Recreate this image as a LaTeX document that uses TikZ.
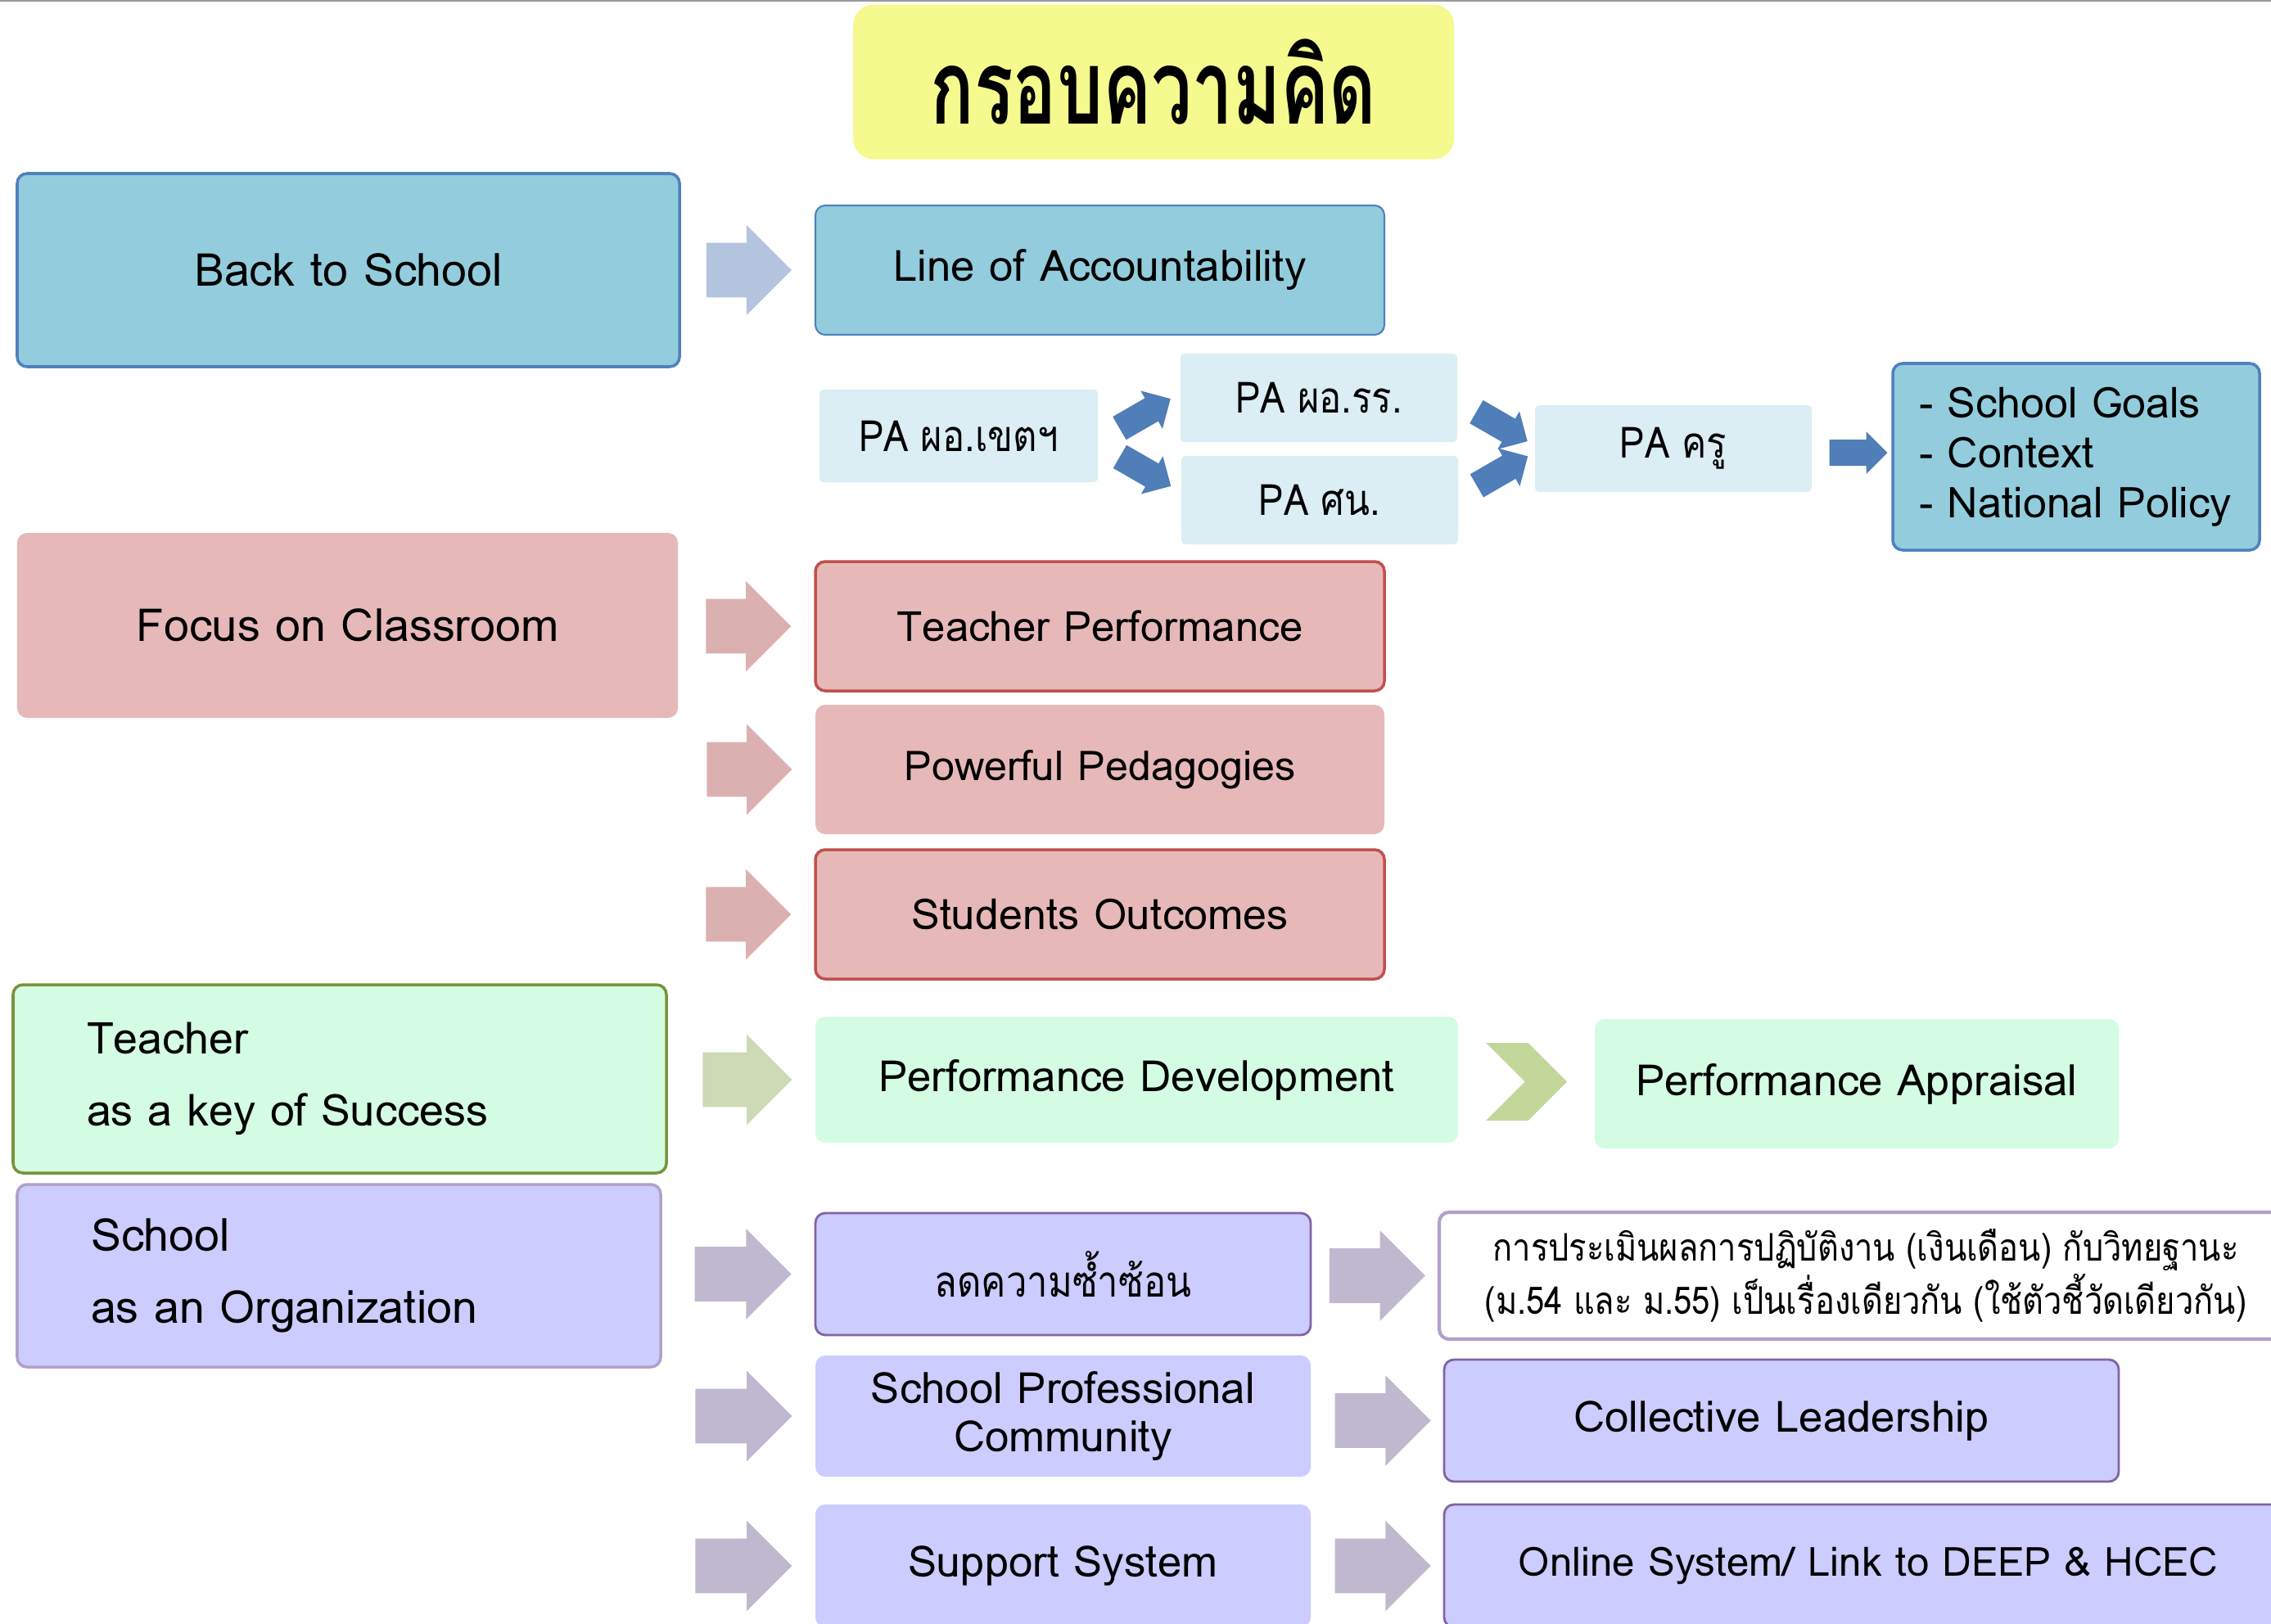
\documentclass[tikz,border=0pt]{standalone}
\usepackage{fontspec}
\setmainfont[Script=Thai]{Loma}
\newfontfamily\thaifont[Script=Thai, FakeStretch=0.86]{Loma}
\newfontfamily\titlefont[Script=Thai, FakeStretch=0.70]{Loma}
\usetikzlibrary{calc}
\usetikzlibrary{positioning}
\usetikzlibrary{shapes.arrows}
\usetikzlibrary{shapes.symbols}

\definecolor{ttfill}{HTML}{F4FA8E}
\definecolor{bsfill}{HTML}{93CDDD}
\definecolor{bsline}{HTML}{4F81BD}
\definecolor{pafill}{HTML}{DAEEF3}
\definecolor{arlight}{HTML}{B3C4DE}
\definecolor{ardark}{HTML}{4F7EB8}
\definecolor{pkfill}{HTML}{E6B9B8}
\definecolor{pkline}{HTML}{C0504D}
\definecolor{arpink}{HTML}{DBB0B1}
\definecolor{gnfill}{HTML}{D3FCE3}
\definecolor{gnline}{HTML}{77933C}
\definecolor{argreen}{HTML}{CDDAB5}
\definecolor{chev}{HTML}{C4D79B}
\definecolor{pufill}{HTML}{CCCCFF}
\definecolor{pulite}{HTML}{B2A1C7}
\definecolor{puline}{HTML}{8064A2}
\definecolor{arpurple}{HTML}{BFB8CF}

\begin{document}
\begin{tikzpicture}[
  box/.style={rounded corners=0.12cm, inner sep=0pt, align=center, font=\fontsize{15}{18}\selectfont},
  bluebox/.style={box, fill=bsfill, draw=bsline, line width=1pt},
  pabox/.style={box, fill=pafill, rounded corners=0.05cm, minimum width=3.38cm, minimum height=1.08cm, font=\fontsize{15}{18}\thaifont},
  pinkbox/.style={box, fill=pkfill},
  greenbox/.style={box, fill=gnfill},
  purplebox/.style={box, fill=pufill},
  bigarrow/.style={single arrow, inner xsep=0pt, inner ysep=0.327cm, minimum height=1.04cm, single arrow head extend=0.218cm},
  smallarrow/.style={single arrow, inner xsep=0pt, inner ysep=0.156cm, fill=ardark, minimum height=0.72cm, single arrow head extend=0.104cm},
]
\clip (0,0) rectangle (27.74,-19.83);
\draw[gray!80, line width=1pt] (0,0) -- (27.74,0);

\node[box, fill=ttfill, rounded corners=0.25cm, minimum width=7.34cm, minimum height=1.89cm, font=\fontsize{36}{40}\titlefont\bfseries] (title) at (14.09,-1.00) {กรอบความคิด};

\node[bluebox, minimum width=8.09cm, minimum height=2.36cm, font=\fontsize{15.8}{18}\selectfont] (bts) at (4.255,-3.30) {Back to School};
\node[bluebox, line width=0.6pt, minimum width=6.95cm, minimum height=1.58cm] (loa) at (13.435,-3.30) {Line of Accountability};
\node[bigarrow, fill=arlight, left=0.27cm of loa] (abts) {};

\node[pabox, minimum width=3.40cm, minimum height=1.13cm] (pazone) at (11.71,-5.325) {PA ผอ.เขตฯ};
\node[pabox] (paschool) at (16.11,-4.86) {PA ผอ.รร.};
\node[pabox] (pasup) at (16.12,-6.11) {PA ศน.};
\node[pabox, minimum height=1.06cm] (pateach) at (20.44,-5.48) {PA ครู};
\node[bluebox, minimum width=4.48cm, minimum height=2.28cm, text width=3.84cm, inner xsep=0.32cm, align=left, font=\fontsize{14.8}{17.3}\selectfont] (goals) at (25.36,-5.58) {- School Goals\\- Context\\- National Policy};
\node[smallarrow, rotate=30] (azs) at ($(pazone.east)!0.5!(paschool.west)$) {};
\node[smallarrow, rotate=-30] (azu) at ($(pazone.east)!0.5!(pasup.west)$) {};
\node[smallarrow, rotate=-30] (ast) at ($(paschool.east)!0.5!(pateach.west)$) {};
\node[smallarrow, rotate=30] (aut) at ($(pasup.east)!0.5!(pateach.west)$) {};
\node[smallarrow, minimum height=0.71cm, inner ysep=0.153cm, single arrow head extend=0.1cm] (atg) at ($(pateach.east)!0.5!(goals.west)$) {};

\node[pinkbox, minimum width=8.07cm, minimum height=2.26cm, font=\fontsize{15.8}{18}\selectfont] (focus) at (4.245,-7.64) {Focus on Classroom};
\node[pinkbox, draw=pkline, line width=1pt, minimum width=6.95cm, minimum height=1.58cm, font=\fontsize{14.5}{18}\selectfont] (tperf) at (13.435,-7.65) {Teacher Performance};
\node[pinkbox, minimum width=6.95cm, minimum height=1.58cm, font=\fontsize{14.3}{18}\selectfont] (pped) at (13.435,-9.40) {Powerful Pedagogies};
\node[pinkbox, draw=pkline, line width=1pt, minimum width=6.95cm, minimum height=1.58cm, font=\fontsize{14.8}{18}\selectfont] (sout) at (13.435,-11.17) {Students Outcomes};
\node[bigarrow, fill=arpink, left=0.27cm of tperf] (atp) {};
\node[bigarrow, fill=arpink, left=0.27cm of pped] (app) {};
\node[bigarrow, fill=arpink, left=0.27cm of sout] (aso) {};

\node[greenbox, draw=gnline, line width=1pt, minimum width=7.98cm, minimum height=2.30cm, text width=6.18cm, inner xsep=0.9cm, align=left, font=\fontsize{15.3}{25}\selectfont] (tkey) at (4.15,-13.18) {Teacher\\as a key of Success};
\node[greenbox, minimum width=7.85cm, minimum height=1.54cm] (pdev) at (13.885,-13.19) {Performance Development};
\node[greenbox, minimum width=6.40cm, minimum height=1.58cm] (papp) at (22.68,-13.24) {Performance Appraisal};
\node[bigarrow, fill=argreen, minimum height=1.09cm, left=0.27cm of pdev] (apd) {};
\node[signal, signal from=west, signal to=east, fill=chev, inner sep=0pt, minimum width=0.99cm, minimum height=0.95cm] (chv) at ($(pdev.east)!0.5!(papp.west)$) {};

\node[purplebox, draw=pulite, line width=1pt, minimum width=7.86cm, minimum height=2.23cm, text width=6.06cm, inner xsep=0.9cm, align=left, font=\fontsize{15.8}{25}\selectfont] (sorg) at (4.14,-15.585) {School\\as an Organization};
\node[purplebox, draw=puline, line width=0.8pt, minimum width=6.05cm, minimum height=1.49cm, font=\fontsize{15}{18}\thaifont] (dup) at (12.985,-15.565) {ลดความซ้ำซ้อน};
\node[purplebox, minimum width=6.05cm, minimum height=1.48cm, font=\fontsize{15}{17}\selectfont] (spc) at (12.985,-17.30) {School Professional\\Community};
\node[purplebox, minimum width=6.05cm, minimum height=1.50cm] (supp) at (12.985,-19.13) {Support System};
\node[box, fill=white, draw=pulite, line width=1.2pt, minimum width=10.42cm, minimum height=1.55cm, font=\fontsize{13.2}{18.5}\thaifont] (same) at (22.79,-15.585) {การประเมินผลการปฏิบัติงาน (เงินเดือน) กับวิทยฐานะ\\(ม.54 และ ม.55) เป็นเรื่องเดียวกัน (ใช้ตัวชี้วัดเดียวกัน)};
\node[purplebox, draw=puline, line width=0.8pt, minimum width=8.24cm, minimum height=1.49cm] (coll) at (21.76,-17.355) {Collective Leadership};
\node[purplebox, draw=puline, line width=0.8pt, minimum width=10.36cm, minimum height=1.50cm, font=\fontsize{14}{18}\selectfont] (onl) at (22.82,-19.13) {Online System/ Link to DEEP \& HCEC};
\node[bigarrow, fill=arpurple, minimum height=1.18cm, left=0.27cm of dup] (adup) {};
\node[bigarrow, fill=arpurple, minimum height=1.18cm, left=0.27cm of spc] (aspc) {};
\node[bigarrow, fill=arpurple, minimum height=1.18cm, left=0.27cm of supp] (asup) {};
\node[bigarrow, fill=arpurple, minimum height=1.17cm, left=0.14cm of same] (asame) {};
\node[bigarrow, fill=arpurple, minimum height=1.17cm, left=0.14cm of coll] (acoll) {};
\node[bigarrow, fill=arpurple, minimum height=1.17cm, left=0.14cm of onl] (aonl) {};

\end{tikzpicture}
\end{document}
